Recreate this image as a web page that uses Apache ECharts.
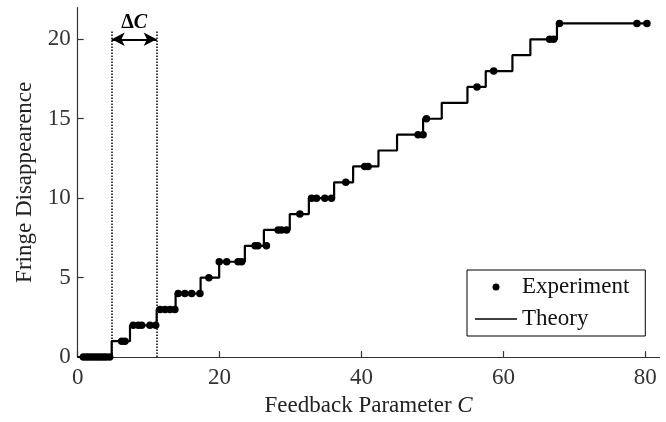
<!DOCTYPE html>
<html>
<head>
<meta charset="utf-8">
<script src="https://cdn.jsdelivr.net/npm/echarts@6/dist/echarts.min.js"></script>
<style>
html,body{margin:0;padding:0;background:#fff;}
#chart{width:666px;height:422px;}
</style>
</head>
<body>
<div id="chart"></div>
<script>
// Theory step function: C where each new level starts, and the level
var theoryC = [0, 4.79, 7.37, 11.13, 13.80, 17.32, 19.94, 23.56, 26.24, 29.89, 32.58, 36.14, 38.82, 42.39, 45.01, 48.68, 51.31, 54.93, 57.51, 61.27, 63.80, 67.55, 80.6];
var theoryLevel = [0, 1, 2, 3, 4, 5, 6, 7, 8, 9, 10, 11, 12, 13, 14, 15, 16, 17, 18, 19, 20, 21, 21];

// Experimental points
var expC = [0.8, 1.2, 1.6, 2.0, 2.4, 2.8, 3.2, 3.6, 4.0, 4.5,
            6.2, 6.66,
            7.83, 8.54, 9.01, 10.18, 10.99,
            11.59, 12.3, 13.0, 13.7,
            14.17, 15.11, 16.06, 17.23,
            18.49,
            19.95, 21.0, 22.6, 23.1,
            25.0, 25.4, 26.6,
            28.25, 28.73, 29.44,
            31.31,
            32.96, 33.66, 34.83, 35.77,
            37.79,
            40.46, 40.93,
            47.97, 48.68,
            49.15,
            56.28,
            58.63,
            66.52, 67.08,
            67.9, 78.82, 80.23];
var expLevel = [0, 0, 0, 0, 0, 0, 0, 0, 0, 0,
                1, 1,
                2, 2, 2, 2, 2,
                3, 3, 3, 3,
                4, 4, 4, 4,
                5,
                6, 6, 6, 6,
                7, 7, 7,
                8, 8, 8,
                9,
                10, 10, 10, 10,
                11,
                12, 12,
                14, 14,
                15,
                17,
                18,
                20, 20,
                21, 21, 21];

// Delta C annotation: the two dotted guides, arrow level, guide top
var deltaC = [4.79, 11.13];
var arrowLevel = 20;
var guideTop = 20.5;

var xTicks = [0, 20, 40, 60, 80];
var yTicks = [0, 5, 10, 15, 20];

var FONT = "'Liberation Serif', 'DejaVu Serif', serif";

var theoryData = theoryC.map(function (c, i) { return [c, theoryLevel[i]]; });
var expData = expC.map(function (c, i) { return [c, expLevel[i]]; });

var chart = echarts.init(document.getElementById('chart'), null, {renderer: 'canvas'});
chart.setOption({
  animation: false,
  backgroundColor: '#ffffff',
  grid: {left: 77.7, right: 6.5, top: 7.5, bottom: 64.5, containLabel: false},
  xAxis: {
    type: 'value', min: 0, max: 82,
    name: 'Feedback Parameter {i|C}',
    nameLocation: 'middle', nameGap: 36,
    nameTextStyle: {fontFamily: FONT, fontSize: 23, color: '#222',
      rich: {i: {fontFamily: FONT, fontSize: 23, fontStyle: 'italic', color: '#222'}}},
    axisLine: {lineStyle: {color: '#333', width: 1.2}},
    axisTick: {inside: true, length: 6, customValues: xTicks, lineStyle: {color: '#333', width: 1.2}},
    axisLabel: {customValues: xTicks, fontFamily: FONT, fontSize: 23, color: '#333', margin: 9},
    splitLine: {show: false}
  },
  yAxis: {
    type: 'value', min: 0, max: 22,
    name: 'Fringe Disappearence',
    nameLocation: 'middle', nameGap: 39, nameRotate: 90,
    nameTextStyle: {fontFamily: FONT, fontSize: 23, color: '#222'},
    axisLine: {show: true, lineStyle: {color: '#333', width: 1.2}},
    axisTick: {show: true, inside: true, length: 6, customValues: yTicks, lineStyle: {color: '#333', width: 1.2}},
    axisLabel: {customValues: yTicks, fontFamily: FONT, fontSize: 23, color: '#333', margin: 7},
    splitLine: {show: false}
  },
  legend: {
    orient: 'vertical',
    left: 467, top: 270,
    padding: [4, 16, 4, 8],
    itemGap: 6,
    itemWidth: 42, itemHeight: 7,
    borderColor: '#000', borderWidth: 1,
    backgroundColor: '#fff',
    textStyle: {fontFamily: FONT, fontSize: 23, color: '#111', lineHeight: 26},
    data: [
      {name: 'Experiment', icon: 'circle', itemStyle: {color: '#000', opacity: 1}},
      {name: 'Theory', icon: 'path://M0,0L100,0L100,3L0,3Z', itemStyle: {color: '#000'}}
    ]
  },
  series: [
    {
      name: 'Theory', type: 'line', step: 'end', data: theoryData,
      symbol: 'none', showSymbol: false, z: 2,
      lineStyle: {color: '#000', width: 2.2},
      itemStyle: {color: '#000'},
      markLine: {
        silent: true, animation: false, symbol: 'none',
        lineStyle: {color: '#000', type: 'dotted', width: 1.5},
        label: {show: false},
        data: [
          [{coord: [deltaC[0], 0]}, {coord: [deltaC[0], guideTop]}],
          [{coord: [deltaC[1], 0]}, {coord: [deltaC[1], guideTop]}],
          [{coord: [deltaC[0], arrowLevel], symbol: 'arrow', symbolSize: [10, 13],
            lineStyle: {type: 'solid', width: 2},
            label: {show: true, position: 'middle', distance: 6,
              formatter: '{d|Δ}{c|C}',
              rich: {
                d: {fontFamily: FONT, fontSize: 20, fontWeight: 'bold', color: '#000'},
                c: {fontFamily: FONT, fontSize: 20, fontWeight: 'bold', fontStyle: 'italic', color: '#000'}
              }}},
           {coord: [deltaC[1], arrowLevel], symbol: 'arrow', symbolSize: [10, 13]}]
        ]
      }
    },
    {
      name: 'Experiment', type: 'scatter', data: expData,
      symbol: 'circle', symbolSize: 7.5, z: 3,
      itemStyle: {color: '#000', opacity: 1}
    }
  ]
});
</script>
</body>
</html>
